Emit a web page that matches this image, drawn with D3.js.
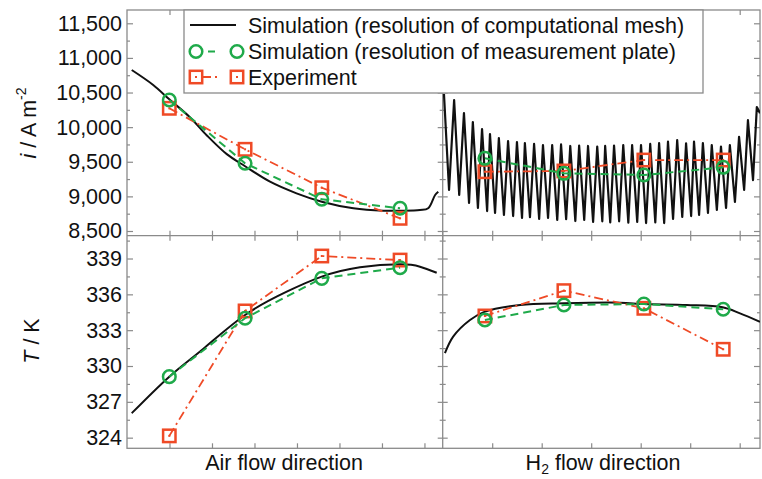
<!DOCTYPE html>
<html><head><meta charset="utf-8">
<script src="https://cdn.jsdelivr.net/npm/d3@7"></script>
<style>
html,body{margin:0;padding:0;background:#fff;}
svg{display:block;font-family:"Liberation Sans",Arial,Helvetica,sans-serif;}
</style></head><body>
<svg id="chart" width="762" height="479"></svg>
<script>
// ---------------- DATA ----------------
// x positions are given as % of the channel length (0..100) in each panel
const airMarkerPos = [13.4, 37.4, 61.7, 86.5];
const h2MarkerPos  = [13.3, 38.2, 63.4, 88.4];

// Current density i (A m^-2)
const airMeshPos     = [1.5, 8.3, 13.4, 20.0, 25.3, 31.6, 37.4, 45.3, 53.7, 61.7, 71.7, 81.2, 86.5, 92.8, 95.4, 97.6, 98.6];
const airMeshCurrent = [10825, 10609, 10402, 10140, 9880, 9610, 9435, 9212, 9044, 8923, 8828, 8793, 8793, 8803, 8828, 9020, 9068];
const airPlateCurrent = [10392, 9478, 8958, 8828];
const airExpCurrent   = [10272, 9680, 9125, 8683];

const h2MeshPos = [0.4, 2.0, 3.6, 5.2, 6.7, 8.3, 9.5, 11.1, 12.4, 14.0, 14.9, 16.5, 17.7, 19.3, 20.6, 22.2,
  23.4, 25.0, 25.9, 27.5, 28.8, 30.4, 31.6, 33.2, 34.5, 36.1, 37.3, 38.9, 40.2, 41.8, 43.0, 44.6,
  45.8, 47.4, 48.7, 50.3, 51.2, 52.8, 54.0, 55.6, 56.9, 58.5, 59.7, 61.3, 62.5, 64.1, 65.4, 67.0,
  68.2, 69.8, 71.0, 72.6, 73.9, 75.5, 76.7, 78.3, 79.2, 80.8, 82.0, 83.6, 84.8, 86.4, 87.7, 89.3,
  90.5, 92.1, 93.4, 95.0, 96.2, 97.8, 99.0, 100.0];
const h2MeshCurrent = [10479, 9092, 10392, 9020, 10204, 8904, 10074, 8832, 9973, 8788, 9901, 8760, 9843, 8731, 9800, 8716,
  9785, 8688, 9771, 8700, 9757, 8673, 9742, 8690, 9742, 8659, 9750, 8670, 9728, 8644, 9735, 8660,
  9728, 8630, 9720, 8640, 9728, 8625, 9735, 8640, 9742, 8620, 9742, 8630, 9742, 8615, 9757, 8625,
  9771, 8615, 9790, 8673, 9814, 8702, 9767, 8716, 9790, 8731, 9771, 8760, 9742, 8803, 9720, 8832,
  9742, 8919, 9860, 9092, 10100, 9236, 10290, 10200];
const h2PlateCurrent = [9550, 9333, 9309, 9420];
const h2ExpCurrent   = [9356, 9367, 9525, 9525];

// Temperature T (K)
const airMeshTPos = [1.5, 13.4, 24.2, 37.4, 50.6, 61.7, 73.8, 86.5, 92.8, 98.1];
const airMeshT    = [326.05, 329.11, 331.45, 334.27, 336.22, 337.48, 338.26, 338.51, 338.31, 337.81];
const airPlateT   = [329.11, 334.0, 337.34, 338.23];
const airExpT     = [324.15, 334.61, 339.21, 338.87];

const h2MeshTPos = [0.7, 3.3, 8.6, 13.3, 24.4, 38.2, 55.9, 63.4, 76.9, 88.2, 93.7, 100];
const h2MeshT    = [331.07, 332.46, 333.85, 334.55, 335.11, 335.25, 335.30, 335.19, 335.11, 334.92, 334.41, 333.7];
const h2PlateT   = [333.85, 335.11, 335.19, 334.75];
const h2ExpT     = [334.19, 336.31, 334.83, 331.40];

// Tick values
const currentTicks = [8500, 9000, 9500, 10000, 10500, 11000, 11500];
const currentMinor = [8750, 9250, 9750, 10250, 10750, 11250];
const tempTicks = [324, 327, 330, 333, 336, 339];
const tempMinor = [325.5, 328.5, 331.5, 334.5, 337.5, 340.5];
const airXTicks = [13.46, 26.92, 40.38, 53.84, 67.3, 80.76, 94.22];
const h2XTicks  = [15.6, 31.2, 46.8, 62.4, 78.0, 93.6];

const legendLabels = ["Simulation (resolution of computational mesh)", "Simulation (resolution of measurement plate)", "Experiment"];
const xLabels = ["Air flow direction", "flow direction"];

// ---------------- LAYOUT / STYLE ----------------
const X0 = 127, XM = 442.7, X1 = 760;
const Y0 = 10, YM = 235.7, Y1 = 448.3;
const GREEN = "#1faa4a", RED = "#ef4a26", FRAME = "#8a8a8a";
const FS = "21.5px";

const svg = d3.select("#chart");
const xL = d3.scaleLinear([0, 100], [X0, XM]);
const xR = d3.scaleLinear([0, 100], [XM, X1]);
const yI = d3.scaleLinear([8432, 11692], [YM, Y0]);
const yT = d3.scaleLinear([323.11, 340.91], [Y1, YM]);

const defs = svg.append("defs");
function clip(id, x0, y0, x1, y1) {
  defs.append("clipPath").attr("id", id).append("rect")
    .attr("x", x0).attr("y", y0).attr("width", x1 - x0).attr("height", y1 - y0);
}
clip("cTL", X0, Y0, XM, YM); clip("cTR", XM, Y0, X1, YM);
clip("cBL", X0, YM, XM, Y1); clip("cBR", XM, YM, X1, Y1);

function noDomain(g) { g.select(".domain").remove(); g.selectAll(".tick line").attr("stroke", FRAME).attr("stroke-width", 1.2); }

// y axes
function yAxes(y, major, minor, fmt) {
  svg.append("g").attr("transform", `translate(${X0},0)`)
    .call(d3.axisLeft(y).tickValues(major).tickSize(-6).tickPadding(5).tickFormat(fmt))
    .call(noDomain)
    .call(g => g.selectAll("text").style("font-size", FS).attr("fill", "#111"));
  svg.append("g").attr("transform", `translate(${X0},0)`)
    .call(d3.axisLeft(y).tickValues(minor).tickSize(-3).tickFormat("")).call(noDomain);
  [5, -5].forEach(s => {
    svg.append("g").attr("transform", `translate(${XM},0)`)
      .call(d3.axisRight(y).tickValues(major).tickSize(s).tickFormat("")).call(noDomain);
    svg.append("g").attr("transform", `translate(${XM},0)`)
      .call(d3.axisRight(y).tickValues(minor).tickSize(s * 0.6).tickFormat("")).call(noDomain);
  });
  svg.append("g").attr("transform", `translate(${X1},0)`)
    .call(d3.axisRight(y).tickValues(major).tickSize(-6).tickFormat("")).call(noDomain);
  svg.append("g").attr("transform", `translate(${X1},0)`)
    .call(d3.axisRight(y).tickValues(minor).tickSize(-3).tickFormat("")).call(noDomain);
}
yAxes(yI, currentTicks, currentMinor, d3.format(","));
yAxes(yT, tempTicks, tempMinor, d3.format("d"));

// x axes
function xAxes(x, ticks) {
  svg.append("g").attr("transform", `translate(0,${Y0})`)
    .call(d3.axisTop(x).tickValues(ticks).tickSize(-5).tickFormat("")).call(noDomain);
  svg.append("g").attr("transform", `translate(0,${YM})`)
    .call(d3.axisBottom(x).tickValues(ticks).tickSize(-5).tickFormat("")).call(noDomain);
  svg.append("g").attr("transform", `translate(0,${YM})`)
    .call(d3.axisTop(x).tickValues(ticks).tickSize(-5).tickFormat("")).call(noDomain);
  svg.append("g").attr("transform", `translate(0,${Y1})`)
    .call(d3.axisBottom(x).tickValues(ticks).tickSize(-5).tickFormat("")).call(noDomain);
}
xAxes(xL, airXTicks);
xAxes(xR, h2XTicks);
svg.append("line").attr("x1", XM).attr("x2", XM).attr("y1", YM - 5).attr("y2", YM + 5).attr("stroke", FRAME).attr("stroke-width", 1.2);

// frames
svg.append("rect").attr("x", X0).attr("y", Y0).attr("width", X1 - X0).attr("height", Y1 - Y0)
  .attr("fill", "none").attr("stroke", FRAME).attr("stroke-width", 1.3);
svg.append("line").attr("x1", XM).attr("x2", XM).attr("y1", Y0).attr("y2", Y1).attr("stroke", FRAME).attr("stroke-width", 1.3);
svg.append("line").attr("x1", X0).attr("x2", X1).attr("y1", YM).attr("y2", YM).attr("stroke", FRAME).attr("stroke-width", 1.3);

// series drawing
function meshLine(clipId, x, y, xs, ys, curve, w) {
  svg.append("path").attr("clip-path", `url(#${clipId})`)
    .datum(xs.map((d, i) => [d, ys[i]]))
    .attr("fill", "none").attr("stroke", "#111").attr("stroke-width", w || 2).attr("stroke-linejoin", "round")
    .attr("d", d3.line().x(d => x(d[0])).y(d => y(d[1])).curve(curve));
}
function plate(x, y, xs, ys) {
  const pts = xs.map((d, i) => [x(d), y(ys[i])]);
  svg.append("path").datum(pts).attr("fill", "none").attr("stroke", GREEN).attr("stroke-width", 2)
    .attr("stroke-dasharray", "8,5").attr("d", d3.line());
  svg.selectAll(null).data(pts).join("circle").attr("cx", d => d[0]).attr("cy", d => d[1]).attr("r", 6.3)
    .attr("fill", "none").attr("stroke", GREEN).attr("stroke-width", 2.5);
}
function exper(x, y, xs, ys) {
  const pts = xs.map((d, i) => [x(d), y(ys[i])]);
  svg.append("path").datum(pts).attr("fill", "none").attr("stroke", RED).attr("stroke-width", 1.8)
    .attr("stroke-dasharray", "9,4,2,4").attr("d", d3.line());
  drawSquares(pts);
}
function drawSquares(pts) {
  svg.selectAll(null).data(pts).join("rect").attr("x", d => d[0] - 6.2).attr("y", d => d[1] - 6.2)
    .attr("width", 12.4).attr("height", 12.4).attr("fill", "none").attr("stroke", RED).attr("stroke-width", 2.5);
  svg.selectAll(null).data(pts).join("rect").attr("x", d => d[0] - 1).attr("y", d => d[1] - 1)
    .attr("width", 2).attr("height", 2).attr("fill", RED);
}

meshLine("cTL", xL, yI, airMeshPos, airMeshCurrent, d3.curveCatmullRom.alpha(0.5));
meshLine("cTR", xR, yI, h2MeshPos, h2MeshCurrent, d3.curveLinear, 2.2);
meshLine("cBL", xL, yT, airMeshTPos, airMeshT, d3.curveNatural);
meshLine("cBR", xR, yT, h2MeshTPos, h2MeshT, d3.curveCatmullRom.alpha(0.5));

exper(xL, yI, airMarkerPos, airExpCurrent);
plate(xL, yI, airMarkerPos, airPlateCurrent);
exper(xR, yI, h2MarkerPos, h2ExpCurrent);
plate(xR, yI, h2MarkerPos, h2PlateCurrent);
exper(xL, yT, airMarkerPos, airExpT);
plate(xL, yT, airMarkerPos, airPlateT);
exper(xR, yT, h2MarkerPos, h2ExpT);
plate(xR, yT, h2MarkerPos, h2PlateT);

// legend
const lg = svg.append("g");
lg.append("rect").attr("x", 184).attr("y", 10).attr("width", 519).attr("height", 83)
  .attr("fill", "#fff").attr("stroke", FRAME).attr("stroke-width", 1.3);
const rowY = [25, 51.5, 77];
const lx0 = 196, lx1 = 237;
lg.append("line").attr("x1", 190).attr("x2", 236).attr("y1", rowY[0]).attr("y2", rowY[0]).attr("stroke", "#111").attr("stroke-width", 2);
lg.append("line").attr("x1", lx0).attr("x2", lx1).attr("y1", rowY[1]).attr("y2", rowY[1]).attr("stroke", GREEN).attr("stroke-width", 2).attr("stroke-dasharray", "0,12,7,40");
[lx0, lx1].forEach(cx => lg.append("circle").attr("cx", cx).attr("cy", rowY[1]).attr("r", 6.3).attr("fill", "none").attr("stroke", GREEN).attr("stroke-width", 2.5));
lg.append("line").attr("x1", lx0).attr("x2", lx1).attr("y1", rowY[2]).attr("y2", rowY[2]).attr("stroke", RED).attr("stroke-width", 1.8).attr("stroke-dasharray", "0,6,9,4,2,40");
drawSquares([[lx0, rowY[2]], [lx1, rowY[2]]]);
legendLabels.forEach((t, i) => lg.append("text").attr("x", 248).attr("y", rowY[i]).attr("dy", "0.36em")
  .style("font-size", FS).attr("fill", "#111").text(t));

// axis titles
const yl1 = svg.append("text").attr("transform", "translate(36,123) rotate(-90)").attr("text-anchor", "middle").style("font-size", FS).attr("fill", "#111");
yl1.append("tspan").attr("font-style", "italic").text("i");
yl1.append("tspan").text(" / A m");
yl1.append("tspan").attr("dy", -10).style("font-size", "14px").text("-2");

const yl2 = svg.append("text").attr("transform", "translate(39,341) rotate(-90)").attr("text-anchor", "middle").style("font-size", FS).attr("fill", "#111");
yl2.append("tspan").attr("font-style", "italic").text("T");
yl2.append("tspan").text(" / K");

svg.append("text").attr("x", 284).attr("y", 470).attr("text-anchor", "middle").style("font-size", FS).attr("fill", "#111").text(xLabels[0]);
const xl2 = svg.append("text").attr("x", 603).attr("y", 470).attr("text-anchor", "middle").style("font-size", FS).attr("fill", "#111");
xl2.append("tspan").text("H");
xl2.append("tspan").attr("dy", 4).style("font-size", "14px").text("2");
xl2.append("tspan").attr("dy", -4).text(" " + xLabels[1]);
</script>
</body></html>
